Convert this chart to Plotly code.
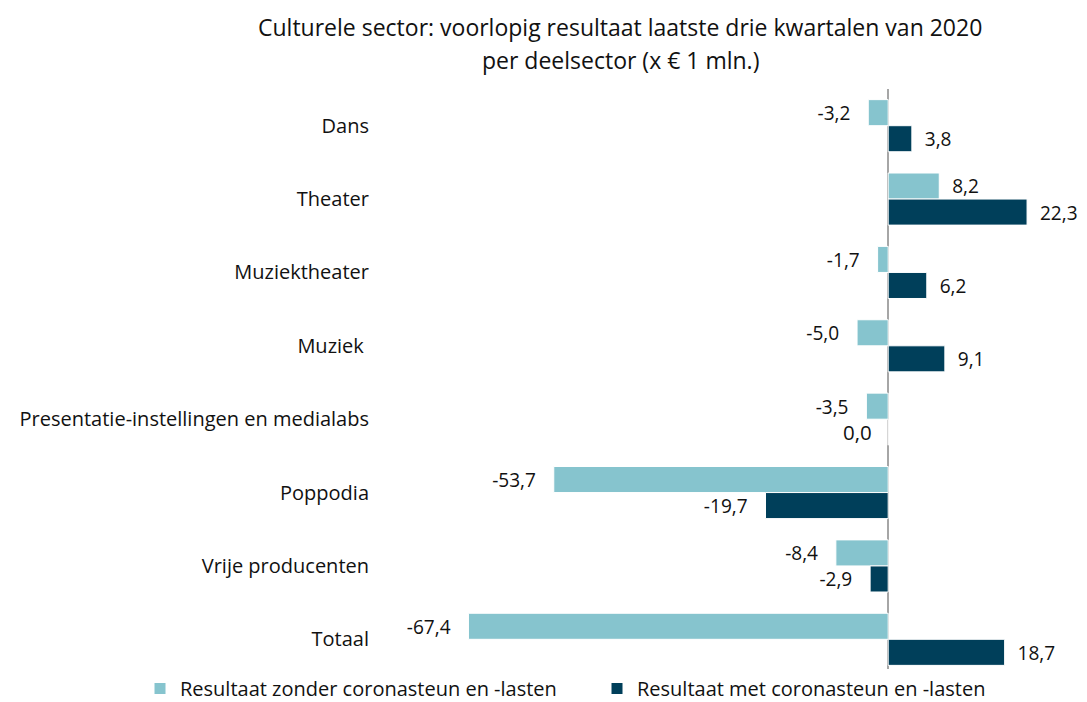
import plotly.graph_objects as go

categories = ["Dans", "Theater", "Muziektheater", "Muziek ",
              "Presentatie-instellingen en medialabs", "Poppodia",
              "Vrije producenten", "Totaal"]
zonder = [-3.2, 8.2, -1.7, -5.0, -3.5, -53.7, -8.4, -67.4]
met = [3.8, 22.3, 6.2, 9.1, 0.0, -19.7, -2.9, 18.7]
series_names = ["Resultaat zonder coronasteun en -lasten",
                "Resultaat met coronasteun en -lasten"]
colors = ["#86C4CE", "#003F5A"]
title_lines = ["Culturele sector: voorlopig resultaat laatste drie kwartalen van 2020",
               "per deelsector (x € 1 mln.)"]

NB = "\u00a0"
PAD_POS = NB * 2
PAD_NEG = NB * 3

# page body has an 8px margin; the figure is sized to fill the rest of the window
W, H = 1079, 694
M_L, M_R, M_T, M_B = 382, 12, 81, 26
PLOT_W = W - M_L - M_R
PLOT_H = H - M_T - M_B


def fmt(v):
    return f"{v:.1f}".replace(".", ",")


def label(v):
    if v > 0:
        return PAD_POS + fmt(v)
    if v < 0:
        return fmt(v) + PAD_NEG
    return ""  # zero values are labelled separately (to the left of the axis)


def ypaper(px_from_top):
    return (H - M_B - px_from_top) / PLOT_H


def xpaper(px_from_left):
    return (px_from_left - M_L) / PLOT_W


FONT = "Open Sans, Noto Sans, sans-serif"
TXT = "#111111"
LBL = 20.5

fig = go.Figure()
for name, vals, col in zip(series_names, [zonder, met], colors):
    fig.add_trace(go.Bar(
        y=categories, x=vals, name=name, orientation="h",
        marker=dict(color=col, line=dict(color="white", width=1)),
        text=[label(v) for v in vals],
        textposition="outside",
        textfont=dict(size=LBL, color=TXT, family=FONT),
        cliponaxis=False,
    ))

# zero-valued labels: placed just left of the zero axis, in the bar's slot
for ti, vals in enumerate([zonder, met]):
    for cat, v in zip(categories, vals):
        if v == 0:
            fig.add_annotation(
                x=v, y=cat, xref="x", yref="y", text=fmt(v),
                showarrow=False, xanchor="right", xshift=-14,
                yshift=(-13 if ti == 1 else 13),
                font=dict(size=LBL, color=TXT, family=FONT),
            )

for line, ypx in zip(title_lines, [19, 52]):
    fig.add_annotation(text=line, xref="paper", yref="paper",
                       x=xpaper(612), y=ypaper(ypx),
                       xanchor="center", yanchor="middle",
                       showarrow=False, font=dict(size=23, color=TXT, family=FONT))

fig.update_layout(
    width=W, height=H,
    barmode="group", bargap=0.29, bargroupgap=0,
    plot_bgcolor="white", paper_bgcolor="white",
    font=dict(family=FONT, size=20, color=TXT),
    margin=dict(l=M_L, r=M_R, t=M_T, b=M_B, autoexpand=False),
    legend=dict(orientation="h", x=xpaper(132), xanchor="left",
                y=ypaper(700), yanchor="bottom",
                font=dict(size=20), traceorder="normal",
                itemwidth=30, entrywidth=412, entrywidthmode="pixels"),
    showlegend=True,
)
fig.update_xaxes(range=[-80, 30], showticklabels=False, showgrid=False,
                 zeroline=True, zerolinecolor="#A6A6A6", zerolinewidth=2)
fig.update_yaxes(autorange="reversed", showgrid=False, ticks="",
                 ticklabelstandoff=20, tickfont=dict(size=20))

fig.write_html("out.html")
